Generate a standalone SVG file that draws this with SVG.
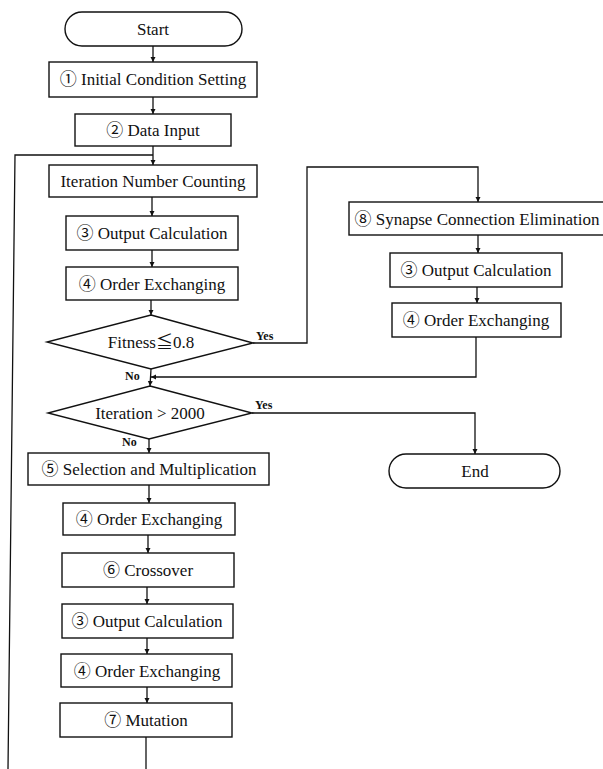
<svg xmlns="http://www.w3.org/2000/svg" width="603" height="769" viewBox="0 0 603 769">
<defs>
<marker id="ah" viewBox="0 0 10 10" refX="10" refY="5" markerWidth="5" markerHeight="6" orient="auto" markerUnits="userSpaceOnUse">
<path d="M0,0 L10,5 L0,10 Z" fill="#111"/>
</marker>
<style>
.b{fill:#fff;stroke:#111;stroke-width:1.4}
.t{font-size:17px;fill:#111;text-anchor:middle}
.l{font-size:12px;font-weight:bold;fill:#111}
.c{fill:none;stroke:#111;stroke-width:1.3}
.a{marker-end:url(#ah)}
</style>
</defs>
<rect width="603" height="769" fill="#fff"/>
<g font-family="'Liberation Serif', 'Times New Roman', 'DejaVu Serif', 'Noto Sans CJK JP', serif">
<g id="connectors">
<line class="c a" x1="153" y1="46" x2="153" y2="62"/>
<line class="c a" x1="153" y1="97" x2="153" y2="114"/>
<line class="c a" x1="153" y1="146" x2="153" y2="165"/>
<line class="c" x1="146" y1="737" x2="146" y2="769"/>
<polyline class="c" points="8,769 15,155 153,155"/>
<line class="c a" x1="152" y1="197" x2="152" y2="216"/>
<line class="c a" x1="152" y1="250" x2="152" y2="267"/>
<line class="c a" x1="151" y1="300" x2="151" y2="315"/>
<line class="c a" x1="151" y1="369" x2="150" y2="386"/>
<line class="c a" x1="149" y1="439" x2="149" y2="453"/>
<line class="c a" x1="149" y1="485" x2="149" y2="503"/>
<line class="c a" x1="148" y1="535" x2="148" y2="553"/>
<line class="c a" x1="147" y1="587" x2="147" y2="604"/>
<line class="c a" x1="147" y1="638" x2="147" y2="654"/>
<line class="c a" x1="147" y1="687" x2="147" y2="703"/>
<polyline class="c a" points="253,343 307,343 307,167 478,167 478,202"/>
<line class="c a" x1="478" y1="235" x2="478" y2="253"/>
<line class="c a" x1="477" y1="287" x2="477" y2="303"/>
<polyline class="c a" points="476,337 476,377 151,377"/>
<polyline class="c a" points="252,413 475,413 475,454"/>
<text class="l" x="256" y="340">Yes</text>
<text class="l" x="125" y="380">No</text>
<text class="l" x="255" y="409">Yes</text>
<text class="l" x="122" y="446">No</text>
</g>
<g id="start"><rect class="b" x="65" y="12" width="177" height="34" rx="17"/><text class="t" x="153" y="35">Start</text></g>
<g id="n1"><rect class="b" x="49" y="62" width="208" height="35"/><text class="t" x="153" y="85">① Initial Condition Setting</text></g>
<g id="n2"><rect class="b" x="75" y="114" width="156" height="32"/><text class="t" x="153" y="136">② Data Input</text></g>
<g id="iter"><rect class="b" x="49" y="165" width="208" height="32"/><text class="t" x="153" y="187">Iteration Number Counting</text></g>
<g id="n3a"><rect class="b" x="66" y="216" width="172" height="34"/><text class="t" x="152" y="239">③ Output Calculation</text></g>
<g id="n4a"><rect class="b" x="66" y="267" width="172" height="33"/><text class="t" x="152" y="290">④ Order Exchanging</text></g>
<g id="d1"><polygon class="b" points="151,315 253,343 151,369 47,342"/><text class="t" x="151" y="348">Fitness≦0.8</text></g>
<g id="d2"><polygon class="b" points="150,386 252,413 149,439 48,413"/><text class="t" x="150" y="419">Iteration &gt; 2000</text></g>
<g id="n5"><rect class="b" x="28" y="453" width="241" height="32"/><text class="t" x="149" y="475">⑤ Selection and Multiplication</text></g>
<g id="n4b"><rect class="b" x="63" y="503" width="172" height="32"/><text class="t" x="149" y="525">④ Order Exchanging</text></g>
<g id="n6"><rect class="b" x="62" y="553" width="172" height="34"/><text class="t" x="148" y="576">⑥ Crossover</text></g>
<g id="n3b"><rect class="b" x="62" y="604" width="171" height="34"/><text class="t" x="147" y="627">③ Output Calculation</text></g>
<g id="n4c"><rect class="b" x="61" y="654" width="171" height="33"/><text class="t" x="147" y="677">④ Order Exchanging</text></g>
<g id="n7"><rect class="b" x="60" y="703" width="172" height="34"/><text class="t" x="146" y="726">⑦ Mutation</text></g>
<g id="n8"><rect class="b" x="349" y="202" width="258" height="33"/><text class="t" x="477" y="225">⑧ Synapse Connection Elimination</text></g>
<g id="n3c"><rect class="b" x="390" y="253" width="172" height="34"/><text class="t" x="476" y="276">③ Output Calculation</text></g>
<g id="n4d"><rect class="b" x="392" y="303" width="169" height="34"/><text class="t" x="476" y="326">④ Order Exchanging</text></g>
<g id="end"><rect class="b" x="389" y="454" width="171" height="34" rx="17"/><text class="t" x="475" y="477">End</text></g>
</g>
</svg>
